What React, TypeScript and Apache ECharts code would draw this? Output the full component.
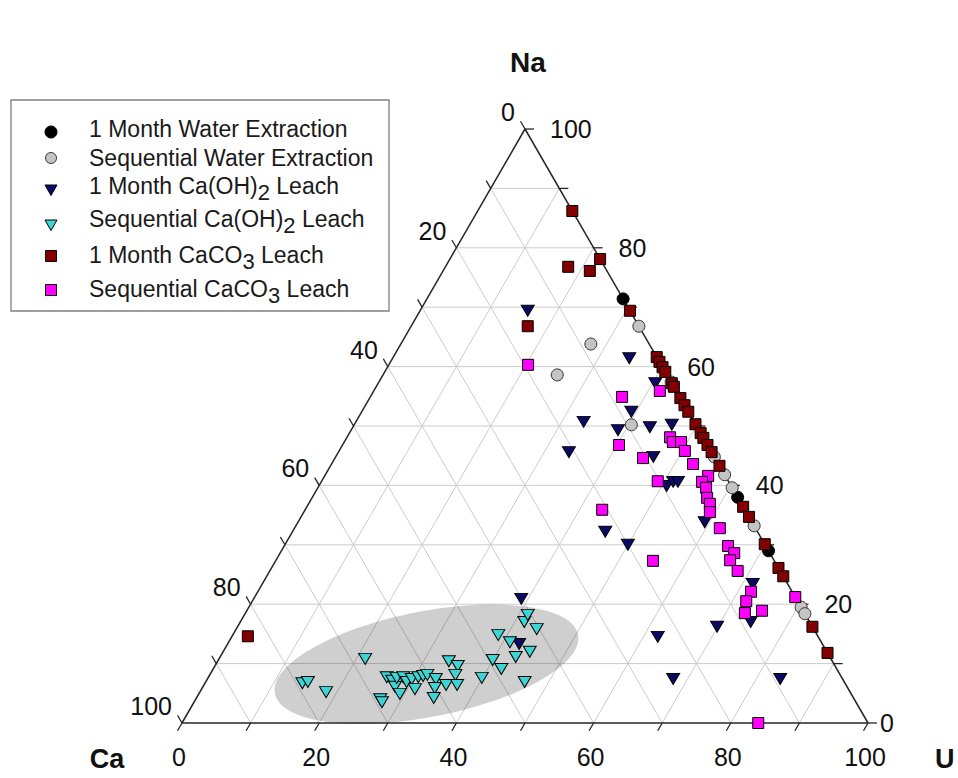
import { useEffect, useRef } from "react";
import * as echarts from "echarts";

// Ternary data: each point is [U %, Na %]; Ca % = 100 - U - Na
const SERIES_NAMES = [
  "1 Month Water Extraction",
  "Sequential Water Extraction",
  "1 Month Ca(OH)2 Leach",
  "Sequential Ca(OH)2 Leach",
  "1 Month CaCO3 Leach",
  "Sequential CaCO3 Leach",
];
const LEGEND_TEXTS = [
  "1 Month Water Extraction",
  "Sequential Water Extraction",
  "1 Month Ca(OH){sub|2} Leach",
  "Sequential Ca(OH){sub|2} Leach",
  "1 Month CaCO{sub|3} Leach",
  "Sequential CaCO{sub|3} Leach",
];

const waterMonth = [[28.6, 71.4], [62.0, 38.0], [71.0, 29.0]];
const waterSeq = [
  [33.2, 66.8], [27.7, 63.8], [25.4, 58.6], [42.6, 57.4], [40.4, 50.2], [55.2, 44.8],
  [58.2, 41.8], [60.4, 39.6], [66.8, 33.2], [80.5, 19.5], [81.6, 18.4],
];
const caOHMonth = [
  [15.7, 69.4], [34.5, 61.4], [40.4, 57.2], [33.6, 45.6], [33.2, 50.7], [38.9, 49.3],
  [39.3, 52.4], [43.3, 49.8], [46.3, 50.2], [46.3, 44.8], [50.7, 39.9], [51.3, 40.6],
  [52.0, 40.6], [59.3, 33.8], [45.6, 32.2], [50.0, 30.0], [71.5, 23.4], [74.4, 17.0],
  [69.9, 16.2], [62.1, 14.5], [67.9, 7.4], [83.5, 7.4], [39.0, 20.9], [42.5, 13.3],
];
const caOHSeq = [
  [14.2, 6.7], [14.9, 6.9], [18.4, 5.2], [21.3, 10.8], [26.9, 4.0], [27.4, 3.5],
  [26.0, 7.7], [27.1, 7.1], [28.0, 6.1], [29.3, 4.9], [27.5, 7.6], [28.4, 7.7],
  [29.3, 6.9], [29.8, 7.4], [31.1, 5.7], [30.6, 7.7], [31.2, 7.9], [31.7, 8.1],
  [33.3, 7.4], [33.9, 5.9], [34.6, 4.2], [35.3, 6.4], [33.7, 10.4], [35.4, 9.6],
  [35.8, 8.1], [36.9, 6.4], [39.9, 7.6], [40.0, 10.6], [42.0, 9.1], [38.7, 14.8],
  [41.0, 13.6], [43.1, 11.1], [44.7, 12.0], [46.5, 6.9], [41.4, 17.0], [41.3, 18.2],
  [43.8, 15.8],
];
const caCO3Month = [
  [13.8, 86.2], [17.9, 76.8], [21.9, 78.1], [21.4, 76.1], [30.6, 69.4], [17.0, 66.8],
  [2.3, 14.6], [38.4, 61.6], [39.2, 60.8], [40.1, 59.9], [40.9, 59.1], [42.8, 57.2],
  [43.4, 56.6], [45.3, 54.7], [46.5, 53.5], [47.6, 52.4], [49.7, 50.3], [51.2, 48.8],
  [52.0, 48.0], [53.2, 46.8], [54.4, 45.6], [56.7, 43.3], [63.6, 36.4], [65.3, 34.7],
  [69.9, 30.1], [73.9, 26.1], [75.3, 24.7], [83.8, 16.2], [88.2, 11.8],
];
const caCO3Seq = [
  [20.3, 60.3], [36.7, 54.9], [41.7, 55.9], [40.3, 46.8], [44.9, 44.6], [47.1, 48.1],
  [47.9, 47.3], [49.1, 47.3], [50.4, 45.8], [52.7, 43.6], [49.0, 40.7], [55.9, 41.6],
  [55.5, 40.6], [56.6, 39.6], [57.6, 37.9], [58.5, 36.9], [59.2, 35.5], [62.0, 32.8],
  [43.3, 35.9], [55.0, 27.3], [64.7, 29.8], [66.2, 28.6], [66.2, 27.4], [68.2, 25.6],
  [71.9, 22.1], [72.0, 20.5], [72.8, 18.5], [75.1, 18.9], [78.8, 21.2], [84.0, 0],
];
const SERIES_DATA = [waterMonth, waterSeq, caOHMonth, caOHSeq, caCO3Month, caCO3Seq];

const TICKS = [0, 10, 20, 30, 40, 50, 60, 70, 80, 90, 100];
const TICK_LABELS = [0, 20, 40, 60, 80, 100];
// grouping ellipse: centre [U, Na], semi-axes in % of side length, tilt in degrees
const ELLIPSE_CENTER = [30.7, 9.9];
const ELLIPSE_AXES = [22.5, 7.7];
const ELLIPSE_TILT = 11;

const FONT = "'Liberation Sans', Arial, Helvetica, sans-serif";

const STYLES = [
  { symbol: "circle", size: 12, color: "#000000", border: "#000000" },
  { symbol: "circle", size: 12, color: "#c4c4c4", border: "#333333" },
  { symbol: "triangle", size: [13, 11], color: "#0a0a66", border: "#000000" },
  { symbol: "triangle", size: [13, 11], color: "#3fd4d4", border: "#000000" },
  { symbol: "rect", size: 11, color: "#820000", border: "#000000" },
  { symbol: "rect", size: 11, color: "#ff00ff", border: "#000000" },
];

const toXY = (u: number, na: number) => [u + na / 2, na];

export default function App() {
  const ref = useRef<HTMLDivElement>(null);
  useEffect(() => {
    if (!ref.current) return;
    const chart = echarts.init(ref.current, undefined, { renderer: "svg" });

    const gridSegs: number[][] = [];
    for (const v of TICKS) {
      if (v <= 0 || v >= 100) continue;
      gridSegs.push([...toXY(0, v), ...toXY(100 - v, v)]);
      gridSegs.push([...toXY(v, 0), ...toXY(v, 100 - v)]);
      gridSegs.push([...toXY(100 - v, 0), ...toXY(0, 100 - v)]);
    }
    const frameSegs = [
      [...toXY(0, 0), ...toXY(100, 0)],
      [...toXY(100, 0), ...toXY(0, 100)],
      [...toXY(0, 100), ...toXY(0, 0)],
    ];
    const tickData: number[][] = [];
    for (let k = 0; k < 3; k++) for (const v of TICKS) tickData.push([k, v]);
    const labelData: number[][] = [];
    for (let k = 0; k < 3; k++) for (const v of TICK_LABELS) labelData.push([k, v]);

    const segRender = (stroke: string, lw: number) => (_p: any, api: any) => {
      const a = api.coord([api.value(0), api.value(1)]);
      const b = api.coord([api.value(2), api.value(3)]);
      return {
        type: "line",
        shape: { x1: a[0], y1: a[1], x2: b[0], y2: b[1] },
        style: { stroke, lineWidth: lw },
      };
    };

    const legendEls: any[] = [
      {
        type: "rect",
        shape: { x: 11, y: 100, width: 378, height: 211 },
        style: { fill: "#ffffff", stroke: "#7f7f7f", lineWidth: 1.3 },
      },
    ];
    const rowY = [129, 158, 186, 219, 255, 289];
    const symY = [132, 158, 190, 225, 256, 290];
    const sx = 51;
    STYLES.forEach((s, i) => {
      const cy = symY[i];
      const st = { fill: s.color, stroke: s.border, lineWidth: 1 };
      if (s.symbol === "circle") {
        legendEls.push({ type: "circle", shape: { cx: sx, cy, r: i === 0 ? 6 : 5.5 }, style: st });
      } else if (s.symbol === "rect") {
        legendEls.push({ type: "rect", shape: { x: sx - 5.5, y: cy - 5.5, width: 11, height: 11 }, style: st });
      } else {
        legendEls.push({
          type: "polygon",
          shape: { points: [[sx - 6, cy - 5], [sx + 6, cy - 5], [sx, cy + 5.5]] },
          style: st,
        });
      }
      legendEls.push({
        type: "text",
        x: 89,
        y: rowY[i],
        style: {
          text: LEGEND_TEXTS[i],
          fontSize: 23,
          fontFamily: FONT,
          fill: "#1a1a1a",
          align: "left",
          verticalAlign: "middle",
          rich: {
            sub: { fontSize: 22, fontFamily: FONT, fill: "#1a1a1a", padding: [12, 0, 0, 0] },
          },
        },
      });
    });

    const titleStyle = { fontSize: 28, fontWeight: "bold", fontFamily: FONT, fill: "#111111", verticalAlign: "middle" };

    const option: any = {
      animation: false,
      backgroundColor: "#ffffff",
      grid: { left: 182, top: 129, width: 686, height: 594 },
      xAxis: { type: "value", min: 0, max: 100, show: false },
      yAxis: { type: "value", min: 0, max: 100, show: false },
      graphic: [
        { type: "group", children: legendEls, z: 100 },
        { type: "text", x: 528, y: 62, style: { ...titleStyle, text: "Na", align: "center" } },
        { type: "text", x: 107, y: 759, style: { ...titleStyle, fontSize: 27, text: "Ca", align: "center" } },
        { type: "text", x: 935, y: 759, style: { ...titleStyle, fontSize: 27, text: "U", align: "left" } },
      ],
      series: [
        {
          type: "custom",
          name: "grid",
          z: 1,
          silent: true,
          encode: { x: [0, 2], y: [1, 3] },
          data: gridSegs,
          renderItem: segRender("#cccccc", 1),
        },
        {
          type: "custom",
          name: "ellipse",
          z: 2,
          silent: true,
          data: [toXY(ELLIPSE_CENTER[0], ELLIPSE_CENTER[1])],
          renderItem: (_p: any, api: any) => {
            const c = api.coord([api.value(0), api.value(1)]);
            const rx = api.size([ELLIPSE_AXES[0], 0])[0];
            const ry = api.size([ELLIPSE_AXES[1], 0])[0];
            return {
              type: "ellipse",
              x: c[0],
              y: c[1],
              rotation: (ELLIPSE_TILT * Math.PI) / 180,
              shape: { cx: 0, cy: 0, rx, ry },
              style: { fill: "rgba(0,0,0,0.19)" },
            };
          },
        },
        {
          type: "custom",
          name: "frame",
          z: 3,
          silent: true,
          encode: { x: [0, 2], y: [1, 3] },
          data: frameSegs,
          renderItem: segRender("#262626", 1.5),
        },
        {
          type: "custom",
          name: "ticks",
          z: 3,
          silent: true,
          data: tickData,
          renderItem: (_p: any, api: any) => {
            const k = api.value(0);
            const v = api.value(1);
            let p: number[];
            let d: number[];
            if (k === 0) {
              p = api.coord(toXY(100 - v, v));
              d = [9, 0];
            } else if (k === 1) {
              p = api.coord(toXY(v, 0));
              d = [-4.5, 7.8];
            } else {
              p = api.coord(toXY(0, 100 - v));
              d = [-4.5, -7.8];
            }
            return {
              type: "line",
              shape: { x1: p[0], y1: p[1], x2: p[0] + d[0], y2: p[1] + d[1] },
              style: { stroke: "#262626", lineWidth: 1.3 },
            };
          },
        },
        {
          type: "custom",
          name: "labels",
          z: 3,
          silent: true,
          data: labelData,
          renderItem: (_p: any, api: any) => {
            const k = api.value(0);
            const v = api.value(1);
            let x: number;
            let y: number;
            let align = "left";
            if (k === 0) {
              const p = api.coord(toXY(100 - v, v));
              x = p[0] + (v === 0 ? 12 : 25);
              y = p[1];
            } else if (k === 1) {
              const p = api.coord(toXY(v, 0));
              x = p[0] - 3;
              y = p[1] + 34;
              align = "center";
            } else {
              const p = api.coord(toXY(0, 100 - v));
              x = p[0] - 10;
              y = p[1] - 17;
              align = "right";
            }
            return {
              type: "text",
              x,
              y,
              style: {
                text: String(v),
                fontSize: 25,
                fontFamily: FONT,
                fill: "#111111",
                align,
                verticalAlign: "middle",
              },
            };
          },
        },
        ...SERIES_DATA.map((arr, i) => ({
          type: "scatter",
          name: SERIES_NAMES[i],
          z: 10 + i,
          symbol: STYLES[i].symbol,
          symbolSize: STYLES[i].size,
          symbolRotate: STYLES[i].symbol === "triangle" ? 180 : 0,
          itemStyle: { color: STYLES[i].color, borderColor: STYLES[i].border, borderWidth: 1, opacity: 1 },
          data: arr.map(([u, na]) => toXY(u, na)),
        })),
      ],
    };
    chart.setOption(option);
    return () => chart.dispose();
  }, []);
  return (
    <div
      ref={ref}
      style={{ position: "absolute", left: 0, top: 0, width: 958, height: 778, background: "#fff" }}
    />
  );
}
